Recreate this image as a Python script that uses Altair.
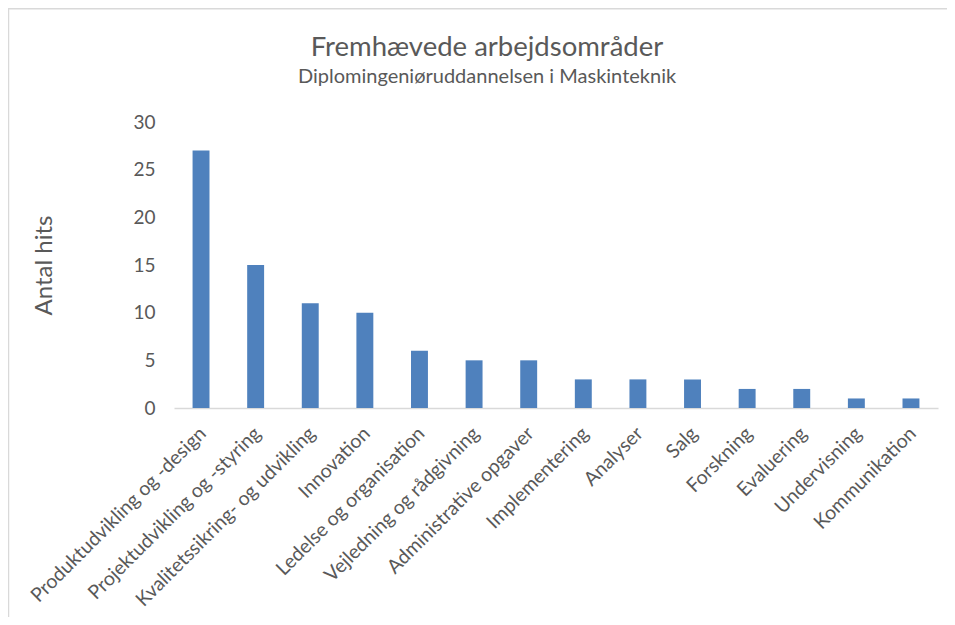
import altair as alt
import pandas as pd

categories = [
    "Produktudvikling og -design",
    "Projektudvikling og -styring",
    "Kvalitetssikring- og udvikling",
    "Innovation",
    "Ledelse og organisation",
    "Vejledning og rådgivning",
    "Administrative opgaver",
    "Implementering",
    "Analyser",
    "Salg",
    "Forskning",
    "Evaluering",
    "Undervisning",
    "Kommunikation",
]
values = [27, 15, 11, 10, 6, 5, 5, 3, 3, 3, 2, 2, 1, 1]
y_ticks = [0, 5, 10, 15, 20, 25, 30]

title_text = "Fremhævede arbejdsområder"
subtitle_text = "Diplomingeniøruddannelsen i Maskinteknik"
y_title = "Antal hits"

df = pd.DataFrame({"omraade": categories, "hits": values})

FONT = "Lato"
GREY = "#595959"
PAD_L, PAD_T, PAD_R, PAD_B = 166, 114, 9, 209
W, H = 764, 286

bars = alt.Chart(df).mark_bar(color="#4f81bd").encode(
    x=alt.X(
        "omraade:N",
        sort=categories,
        title=None,
        scale=alt.Scale(paddingInner=0.69, paddingOuter=0.34),
        axis=alt.Axis(
            labelAngle=-45,
            labelAlign="right",
            labelBaseline="middle",
            labelPadding=22,
            labelOffset=2,
            labelFontSize=19.5,
            labelFont=FONT,
            labelColor=GREY,
            labelLimit=400,
            ticks=False,
            domainColor="#d9d9d9",
            domainWidth=1.5,
        ),
    ),
    y=alt.Y(
        "hits:Q",
        title=y_title,
        scale=alt.Scale(domain=[0, 30], nice=False),
        axis=alt.Axis(
            values=y_ticks,
            grid=False,
            domain=False,
            ticks=False,
            labelPadding=19,
            labelFontSize=19,
            labelFont=FONT,
            labelColor=GREY,
            titleFont=FONT,
            titleFontSize=24,
            titleFontWeight="normal",
            titleColor=GREY,
            titleX=-118,
            titleY=H / 2,
            titleAngle=-90,
            titleBaseline="bottom",
        ),
    ),
)

frame_df = pd.DataFrame({"k": [0]})
left_line = alt.Chart(frame_df).mark_rule(color="#d9d9d9", strokeWidth=1.5).encode(
    x=alt.value(-PAD_L + 0.5),
    y=alt.value(-PAD_T),
    y2=alt.value(H + PAD_B),
)
top_line = alt.Chart(frame_df).mark_rule(color="#d9d9d9", strokeWidth=1.5).encode(
    x=alt.value(-PAD_L),
    x2=alt.value(W + PAD_R),
    y=alt.value(-PAD_T + 0.75),
)

chart = alt.layer(bars, left_line, top_line).properties(
    width=W,
    height=H,
    autosize=alt.AutoSizeParams(type="none"),
    padding={"left": PAD_L, "top": PAD_T, "right": PAD_R, "bottom": PAD_B},
    title=alt.TitleParams(
        text=title_text,
        subtitle=subtitle_text,
        anchor="middle",
        dx=-69,
        font=FONT,
        fontSize=27.5,
        fontWeight="normal",
        color=GREY,
        subtitleFont=FONT,
        subtitleFontSize=20,
        subtitleColor=GREY,
        subtitlePadding=6,
        offset=-80,
    ),
).configure_view(stroke=None)

chart.save("out.html", embed_options={"renderer": "svg", "actions": False})
